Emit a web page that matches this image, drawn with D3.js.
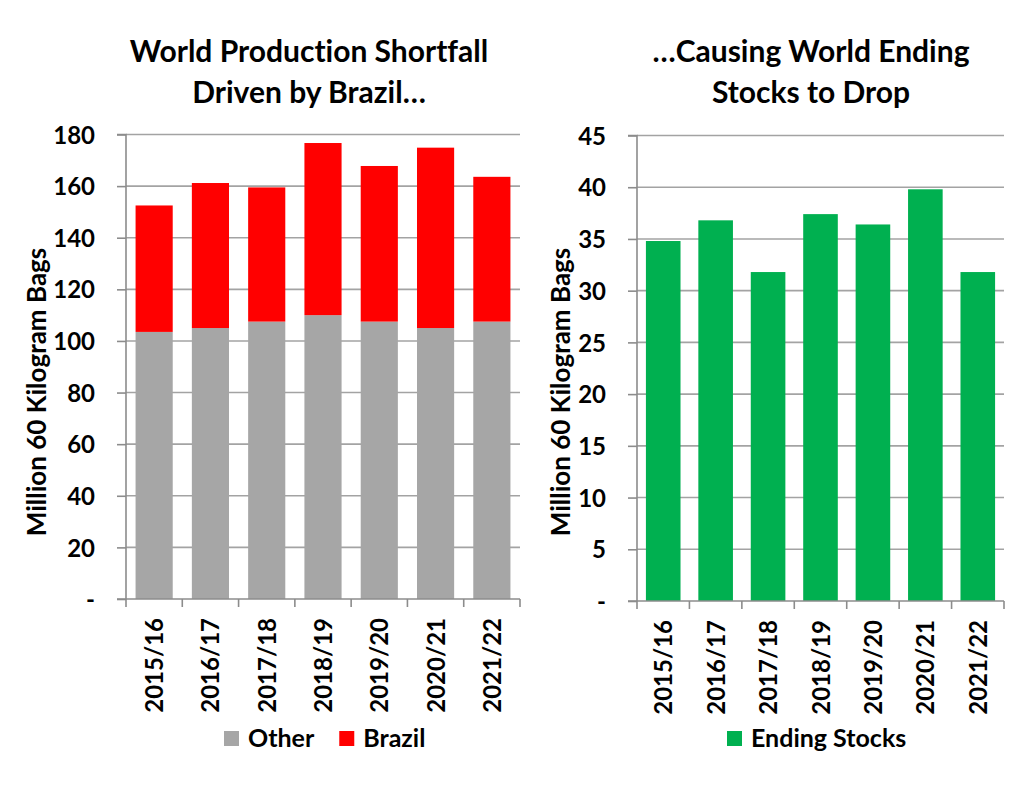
<!DOCTYPE html>
<html>
<head>
<meta charset="utf-8">
<script src="https://cdn.jsdelivr.net/npm/d3@7"></script>
<style>
  html, body { margin: 0; padding: 0; background: #fff; }
  svg text { font-family: Lato, "Liberation Sans", sans-serif; font-weight: bold; fill: #000; font-variant-ligatures: none; }
</style>
</head>
<body>
<svg id="chart" width="1024" height="792"></svg>
<script>
const categories = ["2015/16", "2016/17", "2017/18", "2018/19", "2019/20", "2020/21", "2021/22"];
const otherValues = [103.5, 105, 107.5, 110, 107.5, 105, 107.5];
const brazilValues = [49, 56.2, 52, 66.7, 60.3, 69.9, 56.1];
const endingStocks = [34.8, 36.8, 31.8, 37.4, 36.4, 39.8, 31.8];
const leftTicks = [0, 20, 40, 60, 80, 100, 120, 140, 160, 180];
const rightTicks = [0, 5, 10, 15, 20, 25, 30, 35, 40, 45];
const leftTitle = ["World Production Shortfall", "Driven by Brazil…"];
const rightTitle = ["…Causing World Ending", "Stocks to Drop"];
const yAxisTitle = "Million 60 Kilogram Bags";

const svg = d3.select("#chart");
const GRID = "#A3A3A3", AXIS = "#8C8C8C";

function panel(opts) {
  const g = svg.append("g");
  const x = d3.scaleBand().domain(categories).range([opts.x0, opts.x1]).paddingInner(0.34).paddingOuter(0.17);
  const y = d3.scaleLinear().domain([0, opts.max]).range([opts.y0, opts.y1]);

  // gridlines
  g.append("g").selectAll("line").data(opts.ticks.filter(t => t > 0)).join("line")
    .attr("x1", opts.x0).attr("x2", opts.x1)
    .attr("y1", d => y(d)).attr("y2", d => y(d))
    .attr("stroke", GRID).attr("stroke-width", 1.6);

  // bars
  opts.series.forEach(s => {
    g.append("g").selectAll("rect").data(categories).join("rect")
      .attr("x", d => x(d))
      .attr("width", x.bandwidth())
      .attr("y", (d, i) => y(s.base[i] + s.values[i]))
      .attr("height", (d, i) => y(s.base[i]) - y(s.base[i] + s.values[i]))
      .attr("fill", s.color);
  });

  // y axis
  const yAxis = d3.axisLeft(y).tickValues(opts.ticks).tickSize(9).tickPadding(22)
    .tickFormat(d => d === 0 ? "-" : d);
  const ya = g.append("g").attr("transform", `translate(${opts.x0},0)`).call(yAxis);
  ya.select(".domain").attr("stroke", AXIS).attr("stroke-width", 1.6).attr("d", `M-9,${opts.y1}H0V${opts.y0}`);
  ya.selectAll(".tick line").attr("stroke", AXIS).attr("stroke-width", 1.6);
  ya.selectAll(".tick text").attr("font-size", 24).attr("fill", "#000")
    .attr("font-family", "Lato").attr("font-weight", "bold").attr("dy", "0.36em");

  // x axis: ticks at band boundaries
  const xa = g.append("g").attr("transform", `translate(0,${opts.y0})`);
  xa.append("line").attr("x1", opts.x0 - 9).attr("x2", opts.x1).attr("y1", 0).attr("y2", 0)
    .attr("stroke", AXIS).attr("stroke-width", 1.6);
  const bounds = categories.map((c, i) => i).concat([categories.length]);
  xa.selectAll("line.tk").data(bounds).join("line").attr("class", "tk")
    .attr("x1", i => opts.x0 + (opts.x1 - opts.x0) * i / categories.length)
    .attr("x2", i => opts.x0 + (opts.x1 - opts.x0) * i / categories.length)
    .attr("y1", 0).attr("y2", 8).attr("stroke", AXIS).attr("stroke-width", 1.6);
  xa.selectAll("text").data(categories).join("text")
    .attr("transform", d => `translate(${x(d) + x.bandwidth() / 2 + 9},19) rotate(-90)`)
    .attr("text-anchor", "end")
    .attr("font-size", 24)
    .text(d => d);

  // axis title
  g.append("text")
    .attr("transform", `translate(${opts.titleX},${opts.titleY}) rotate(-90)`)
    .attr("text-anchor", "middle").attr("font-size", 26).text(yAxisTitle);

  // chart title
  const cx = opts.titleCx;
  opts.title.forEach((t, i) => {
    g.append("text").attr("x", cx).attr("y", 62 + i * 41).attr("text-anchor", "middle")
      .attr("font-size", 30).text(t);
  });

  // legend
  const leg = g.append("g");
  let lx = opts.legendX;
  opts.series.forEach(s => {
    leg.append("rect").attr("x", lx).attr("y", 731).attr("width", 15).attr("height", 15).attr("fill", s.color);
    const t = leg.append("text").attr("x", lx + 24).attr("y", 747).attr("font-size", 25).text(s.name);
    lx += 24 + t.node().getComputedTextLength() + 25;
  });
}

panel({
  x0: 126, x1: 520, y0: 599, y1: 134.5, max: 180, ticks: leftTicks,
  series: [
    { name: "Other", values: otherValues, base: otherValues.map(() => 0), color: "#A6A6A6" },
    { name: "Brazil", values: brazilValues, base: otherValues, color: "#FF0000" }
  ],
  title: leftTitle, titleCx: 309, titleX: 46, titleY: 392, legendX: 224
});

panel({
  x0: 637, x1: 1004, y0: 601, y1: 135.5, max: 45, ticks: rightTicks,
  series: [
    { name: "Ending Stocks", values: endingStocks, base: endingStocks.map(() => 0), color: "#00B050" }
  ],
  title: rightTitle, titleCx: 811, titleX: 570, titleY: 392, legendX: 727
});
</script>
</body>
</html>
